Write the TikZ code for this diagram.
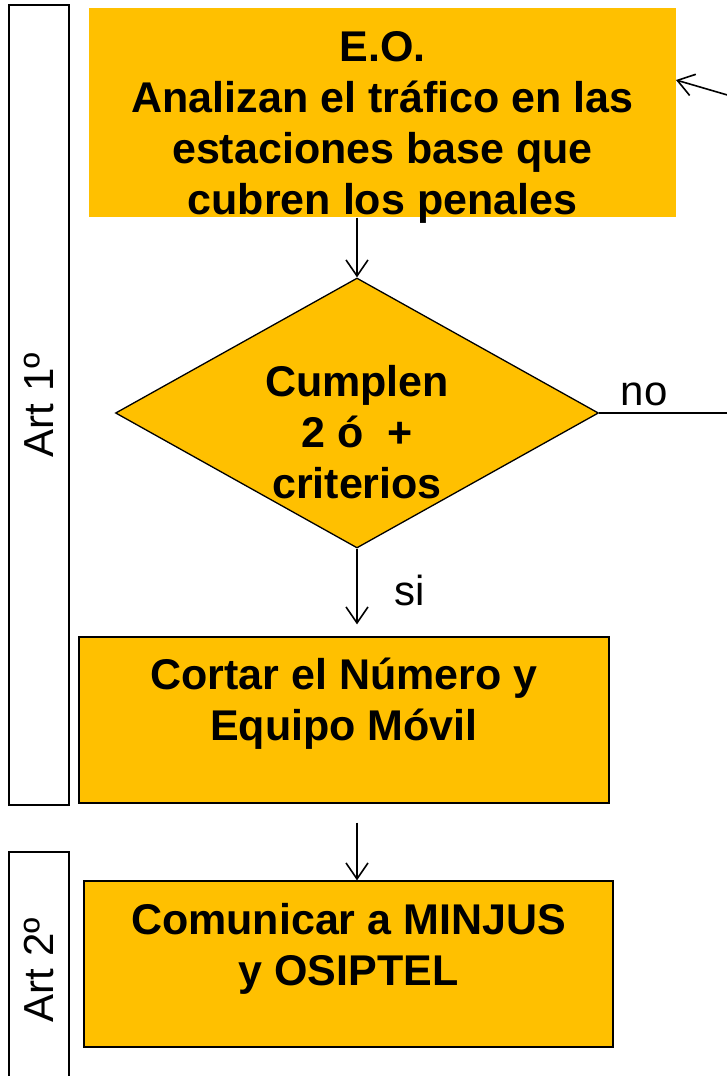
\documentclass[tikz,border=0pt]{standalone}
\usepackage{fontspec}
\setmainfont{Liberation Sans}
\usepackage{tikz}
\usepackage{xcolor}
\usetikzlibrary{shapes.geometric, arrows.meta}

\definecolor{amber}{HTML}{FFC000}

\tikzset{
    flowbox/.style={fill=amber, draw=black, line width=1.3pt, inner sep=0pt},
    boldtext/.style={align=center, font=\fontsize{43}{51}\selectfont\bfseries},
    plaintext/.style={font=\fontsize{42}{50}\selectfont},
    artbox/.style={draw=black, line width=1.6pt, fill=white, rotate=90, inner sep=0pt, font=\fontsize{42}{50}\selectfont},
    arr/.style={->, line width=1.6pt}
}

\begin{document}
\begin{tikzpicture}[x=1pt, y=-1pt, >={Straight Barb[length=16pt,width=22pt]}]
        \useasboundingbox (0,0) rectangle (727,1076);
        \clip (0,0) rectangle (727,1076);

        % Article frames
        \node (art1) at (39,405) [artbox, minimum width=800, minimum height=60] {Art 1º};
        \node (art2) at (39,970) [artbox, minimum width=236, minimum height=60] {Art 2º};

        % Main box
        \node (eo) at (382.5,112.5) [flowbox, draw=none, minimum width=587, minimum height=209,
            label={[boldtext, yshift=-15]center:E.O.\\Analizan el tráfico en las\\estaciones base que\\cubren los penales}] {};

        % Decision
        \node (dec) at (357,413) [flowbox, diamond, aspect=1.79, minimum width=483, minimum height=270,
            label={[boldtext, yshift=-19]center:Cumplen\\2 ó\ \ +\\criterios}] {};
        \draw[arr] (eo.south -| dec.north) -- (dec.north);

        % Yes branch
        \node (cortar) at (344,720) [flowbox, minimum width=530, minimum height=166,
            label={[boldtext, yshift=16]center:Cortar el Número y\\Equipo Móvil}] {};
        \draw[arr, shorten >=12pt] (dec.south) -- (cortar.north -| dec.south);
        \node (si) at (410,590) [plaintext] {si};

        % No branch, back to the top
        \node (no) at (644,394) [plaintext] {no};
        \coordinate (back) at (676,80);
        \draw[arr] (dec.east) -- (765,413) -- (765,106) -- (back);

        % Art 2
        \node (comunicar) at (348.5,964) [flowbox, minimum width=529, minimum height=166,
            label={[boldtext, yshift=15]center:Comunicar a MINJUS\\y OSIPTEL}] {};
        \draw[arr, shorten <=19pt] (cortar.south -| dec.south) -- (comunicar.north -| dec.south);
    \end{tikzpicture}
\end{document}
